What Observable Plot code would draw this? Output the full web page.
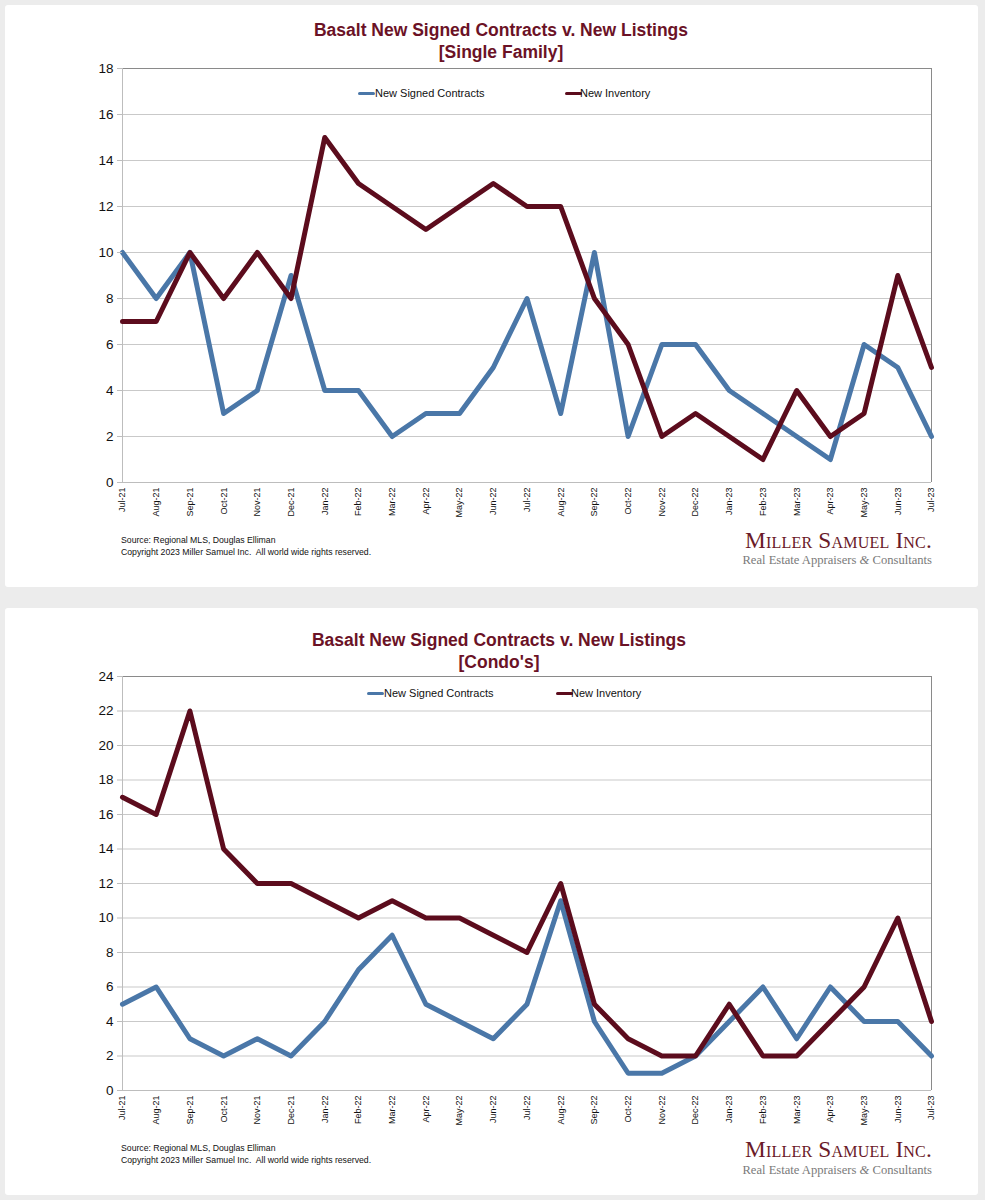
<!DOCTYPE html>
<html>
<head>
<meta charset="utf-8">
<script src="https://cdn.jsdelivr.net/npm/d3@7"></script>
<script src="https://cdn.jsdelivr.net/npm/@observablehq/plot@0.6"></script>
<style>
  html, body { margin: 0; padding: 0; }
  body { width: 985px; height: 1200px; background: #ececec; position: relative; overflow: hidden;
         font-family: "Liberation Sans", Arial, sans-serif; }
  .card { position: absolute; left: 5px; width: 973px; background: #fff; border-radius: 3px; }
  .abs { position: absolute; white-space: nowrap; }
  .title { left: 0; width: 1002px; text-align: center; font-weight: bold; font-size: 17.5px; line-height: 22px; color: #6b1226; z-index: 2; }
  .leg { font-size: 11px; line-height: 11px; color: #111; z-index: 2; }
  .sw { height: 3px; width: 17px; border-radius: 2px; z-index: 2; }
  .src { left: 121px; font-size: 8.7px; line-height: 12px; color: #111; }
  .logo1 { right: 53px; text-align: right; font-family: "Liberation Serif", "Times New Roman", serif; font-variant: small-caps; font-size: 23.3px; line-height: 23px; color: #6a1a28; letter-spacing: 0.2px; }
  .logo2 { right: 53px; text-align: right; font-family: "Liberation Serif", "Times New Roman", serif; font-size: 12.6px; line-height: 13px; color: #7a7a7a; }
  .chart { position: absolute; left: 0; z-index: 1; }
</style>
</head>
<body>
<div class="card" style="top:5px;height:582px;"></div>
<div class="card" style="top:608px;height:587px;"></div>

<div class="abs title" style="top:19px;">Basalt New Signed Contracts v. New Listings<br>[Single Family]</div>
<div class="abs title" style="top:629px;left:-2px;">Basalt New Signed Contracts v. New Listings<br>[Condo's]</div>

<div id="chart1" class="chart" style="top:5px;"></div>
<div id="chart2" class="chart" style="top:608px;"></div>

<div class="abs sw" style="left:358px;top:92px;background:#4a77a8;"></div>
<div class="abs leg" style="left:375px;top:88px;">New Signed Contracts</div>
<div class="abs sw" style="left:565px;top:92px;background:#5c0c1d;"></div>
<div class="abs leg" style="left:580px;top:88px;">New Inventory</div>

<div class="abs sw" style="left:367px;top:692px;background:#4a77a8;"></div>
<div class="abs leg" style="left:384px;top:688px;">New Signed Contracts</div>
<div class="abs sw" style="left:556px;top:692px;background:#5c0c1d;"></div>
<div class="abs leg" style="left:571px;top:688px;">New Inventory</div>

<div class="abs src" style="top:534px;">Source: Regional MLS, Douglas Elliman<br>Copyright 2023 Miller Samuel Inc.&nbsp; All world wide rights reserved.</div>
<div class="abs src" style="top:1142px;">Source: Regional MLS, Douglas Elliman<br>Copyright 2023 Miller Samuel Inc.&nbsp; All world wide rights reserved.</div>

<div class="abs logo1" style="top:529px;">Miller Samuel Inc.</div>
<div class="abs logo2" style="top:554px;">Real Estate Appraisers <i>&amp;</i> Consultants</div>
<div class="abs logo1" style="top:1138px;">Miller Samuel Inc.</div>
<div class="abs logo2" style="top:1164px;">Real Estate Appraisers <i>&amp;</i> Consultants</div>

<script>
const months = ["Jul-21","Aug-21","Sep-21","Oct-21","Nov-21","Dec-21","Jan-22","Feb-22","Mar-22","Apr-22","May-22","Jun-22","Jul-22","Aug-22","Sep-22","Oct-22","Nov-22","Dec-22","Jan-23","Feb-23","Mar-23","Apr-23","May-23","Jun-23","Jul-23"];

const sfContracts  = [10, 8, 10, 3, 4, 9, 4, 4, 2, 3, 3, 5, 8, 3, 10, 2, 6, 6, 4, 3, 2, 1, 6, 5, 2];
const sfInventory  = [7, 7, 10, 8, 10, 8, 15, 13, 12, 11, 12, 13, 12, 12, 8, 6, 2, 3, 2, 1, 4, 2, 3, 9, 5];

const condoContracts = [5, 6, 3, 2, 3, 2, 4, 7, 9, 5, 4, 3, 5, 11, 4, 1, 1, 2, 4, 6, 3, 6, 4, 4, 2];
const condoInventory = [17, 16, 22, 14, 12, 12, 11, 10, 11, 10, 10, 9, 8, 12, 5, 3, 2, 2, 5, 2, 2, 4, 6, 10, 4];

const sfTicks = [0, 2, 4, 6, 8, 10, 12, 14, 16, 18];
const condoTicks = [0, 2, 4, 6, 8, 10, 12, 14, 16, 18, 20, 22, 24];

const blue = "#4a77a8";
const maroon = "#5c0c1d";

function makeChart(contracts, inventory, ticks, marginTop, marginBottom) {
  const yMax = ticks[ticks.length - 1];
  return Plot.plot({
    width: 985,
    height: 520,
    marginTop,
    marginBottom,
    marginLeft: 122,
    marginRight: 54,
    style: { fontFamily: "'Liberation Sans', Arial, sans-serif", background: "transparent", color: "#111" },
    x: { type: "point", domain: months, padding: 0, round: false, label: null },
    y: { domain: [0, yMax], label: null },
    marks: [
      Plot.gridY(ticks, { stroke: "#c9c9c9", strokeOpacity: 1 }),
      Plot.ruleY([yMax], { stroke: "#8a8a8a", strokeWidth: 1 }),
      Plot.ruleX([months[months.length - 1]], { stroke: "#8a8a8a", strokeWidth: 1 }),
      Plot.ruleY([0], { stroke: "#bdbdbd", strokeWidth: 1 }),
      Plot.ruleX([months[0]], { stroke: "#bdbdbd", strokeWidth: 1 }),
      Plot.line(contracts, { x: (d, i) => months[i], y: d => d, stroke: blue, strokeWidth: 5 }),
      Plot.line(inventory, { x: (d, i) => months[i], y: d => d, stroke: maroon, strokeWidth: 5 }),
      Plot.axisY(ticks, { tickSize: 5, tickPadding: 4, fontSize: 13.5, stroke: "#bdbdbd", label: null }),
      Plot.axisX(months, { tickRotate: -90, tickSize: 0, tickPadding: 5, fontSize: 9, label: null })
    ]
  });
}

document.getElementById("chart1").appendChild(makeChart(sfContracts, sfInventory, sfTicks, 63, 43));
document.getElementById("chart2").appendChild(makeChart(condoContracts, condoInventory, condoTicks, 68, 38));
</script>
</body>
</html>
